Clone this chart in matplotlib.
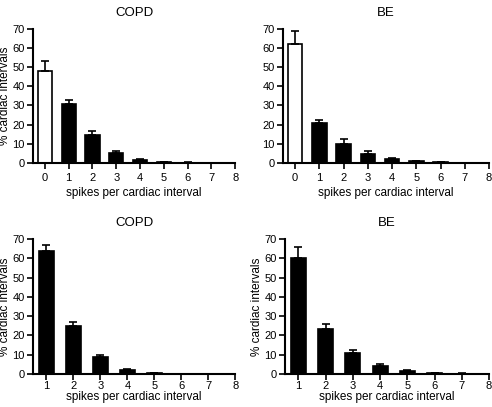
import numpy as np
import matplotlib.pyplot as plt

plt.rcParams["font.family"] = ["Liberation Sans", "DejaVu Sans"]

# top row: 0..8 spikes, bottom row: 1..8 spikes
spikes_top = [0, 1, 2, 3, 4, 5, 6, 7, 8]
spikes_bot = [1, 2, 3, 4, 5, 6, 7, 8]

copd_top = [48, 31, 14.5, 5.2, 1.3, 0.3, 0.1, 0.05, 0.02]
copd_top_err = [5, 2, 2.2, 0.8, 0.5, 0.2, 0.1, 0.05, 0.02]
be_top = [62, 21, 9.8, 4.6, 1.8, 0.8, 0.2, 0.1, 0.05]
be_top_err = [7, 1.5, 2.5, 1.5, 0.6, 0.3, 0.1, 0.05, 0.02]

copd_bot = [63.5, 25, 9, 2.3, 0.5, 0.1, 0.05, 0.02]
copd_bot_err = [3.5, 2, 1, 0.5, 0.2, 0.05, 0.02, 0.01]
be_bot = [60, 23.5, 11, 4.3, 1.7, 0.4, 0.2, 0.1]
be_bot_err = [6, 2.5, 1.5, 1, 0.5, 0.2, 0.1, 0.05]

fig = plt.figure(figsize=(4.92, 4.07), dpi=100)

# rect, title, x, y, err, ylabel?, bar width, xtick pad, xlabel pad
panels = [
    ([0.067, 0.600, 0.411, 0.329], "COPD", spikes_top, copd_top, copd_top_err, True, 0.6, 3, 3),
    ([0.575, 0.600, 0.419, 0.329], "BE", spikes_top, be_top, be_top_err, False, 0.6, 3, 3),
    ([0.067, 0.081, 0.411, 0.332], "COPD", spikes_bot, copd_bot, copd_bot_err, True, 0.55, 1, 0),
    ([0.579, 0.081, 0.415, 0.332], "BE", spikes_bot, be_bot, be_bot_err, True, 0.55, 1, 0),
]

for rect, title, x, y, err, ylab, w, tpad, lpad in panels:
    ax = fig.add_axes(rect)
    colors = ["white" if xi == 0 else "black" for xi in x]
    ax.bar(x, y, width=w, color=colors, edgecolor="black", linewidth=1.2,
           yerr=[np.zeros(len(err)), err], capsize=3,
           error_kw=dict(ecolor="black", elinewidth=1.2, capthick=1.2))
    ax.set_xlim(x[0] - 0.5, 8)
    ax.set_ylim(0, 70)
    ax.set_xticks(x)
    ax.set_yticks(range(0, 71, 10))
    for s in ["top", "right"]:
        ax.spines[s].set_visible(False)
    for s in ["left", "bottom"]:
        ax.spines[s].set_linewidth(1.5)
    ax.tick_params(direction="out", length=4, width=1.2, labelsize=8, pad=2)
    ax.tick_params(axis="x", pad=tpad)
    ax.set_title(title, fontsize=9.5, pad=9)
    ax.set_xlabel("spikes per cardiac interval", fontsize=8.5, labelpad=lpad)
    if ylab:
        ax.set_ylabel("% cardiac intervals", fontsize=8.5, labelpad=1)

fig.savefig("out.png", dpi=100)
